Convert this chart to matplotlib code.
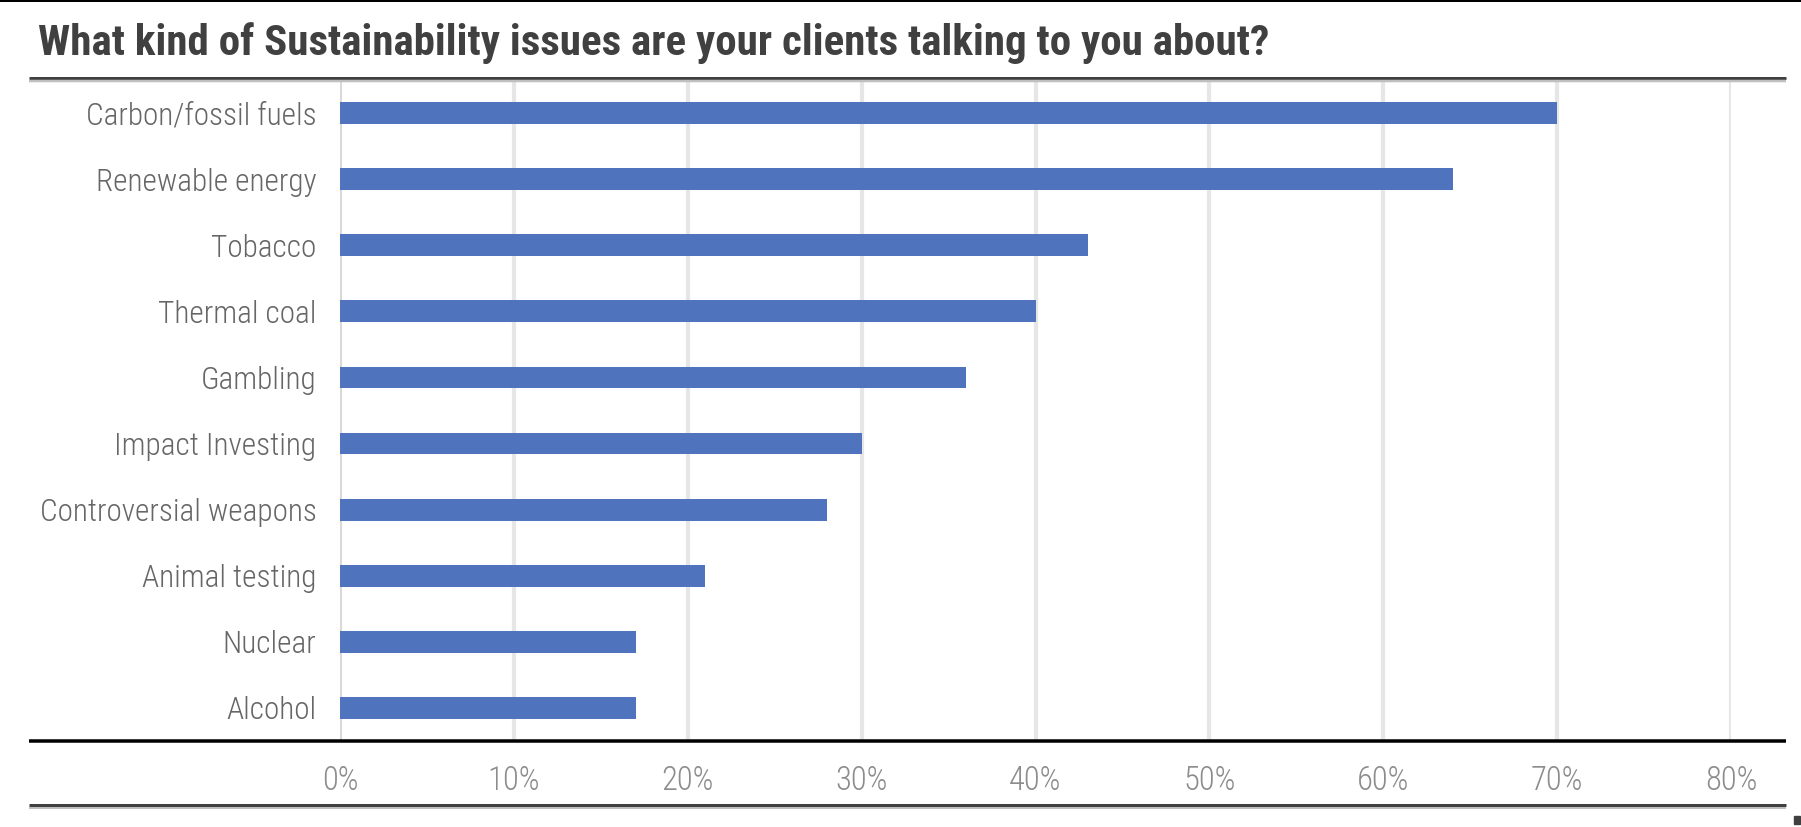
import matplotlib
matplotlib.use("Agg")
import matplotlib.pyplot as plt
from matplotlib import font_manager
from matplotlib.lines import Line2D
from matplotlib.patches import Rectangle

categories = ["Carbon/fossil fuels", "Renewable energy", "Tobacco", "Thermal coal",
              "Gambling", "Impact Investing", "Controversial weapons", "Animal testing",
              "Nuclear", "Alcohol"]
values = [70, 64, 43, 40, 36, 30, 28, 21, 17, 17]
xticks = [0, 10, 20, 30, 40, 50, 60, 70, 80]
xticklabels = [f"{t}%" for t in xticks]
title = "What kind of Sustainability issues are your clients talking to you about?"

avail = {f.name for f in font_manager.fontManager.ttflist}
fam = "DejaVu Sans"
for cand in ["Liberation Sans Narrow", "DejaVu Sans Condensed", "Roboto Condensed", "Liberation Sans"]:
    if cand in avail:
        fam = cand
        break
plt.rcParams['font.family'] = [fam, 'DejaVu Sans']

W, H = 1801, 827
fig = plt.figure(figsize=(W / 100, H / 100), dpi=100)

def fx(px):
    return px / W

def fy(py):
    return 1 - py / H

ax_left, ax_right = 340, 1731
ax_top, ax_bot = 80, 741
ax = fig.add_axes([fx(ax_left), fy(ax_bot), fx(ax_right - ax_left), (ax_bot - ax_top) / H])

ypos = list(range(len(categories)))
ax.barh(ypos, values, height=0.33, color="#5073BD", zorder=3)
ax.set_xlim(0, 80)
ax.set_ylim(len(categories) - 0.5, -0.5)
ax.set_yticks(ypos)
ax.set_yticklabels(categories, fontsize=22.5, color="#666666", fontweight="light")
ax.set_xticks(xticks)
ax.set_xticklabels(xticklabels, fontsize=23.5, color="#8c8c8c", fontweight="light")
ax.tick_params(axis="y", length=0, pad=17)
ax.tick_params(axis="x", length=0, pad=17)
for s in ax.spines.values():
    s.set_visible(False)
for t in xticks:
    ax.axvline(t, color="#d9d9d9" if t == 0 else "#e6e6e6", lw=3.0 if t else 2.2, zorder=1)

# decorative rules
def hline(y, x0, x1, color, lw_px):
    fig.add_artist(Line2D([fx(x0), fx(x1)], [fy(y), fy(y)], color=color,
                          lw=lw_px * 0.72, solid_capstyle="butt"))

hline(0.8, 0, W, "#000000", 2)
hline(78, 29, 1786, "#404040", 3)
hline(80.5, 29, 1786, "#bfbfbf", 2.5)
hline(740.5, 29, 1786, "#000000", 3.5)
hline(805, 29, 1786, "#404040", 3)
hline(807.5, 29, 1786, "#bfbfbf", 2)
fig.add_artist(Rectangle((fx(1794), fy(824)), fx(6), 8 / H, color="#404040"))

fig.text(fx(38), fy(43), title, fontsize=31, fontweight="bold", color="#404040",
         ha="left", va="center")

fig.savefig("out.png", dpi=100, facecolor="white")
